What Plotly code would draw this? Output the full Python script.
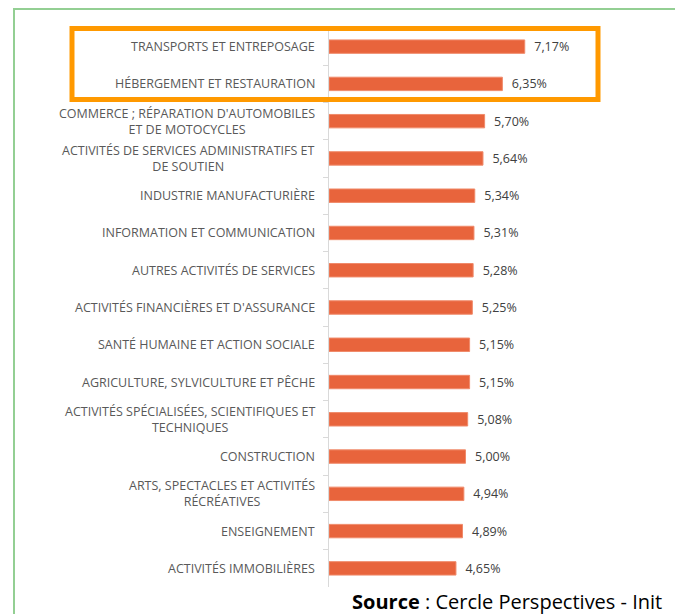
import plotly.graph_objects as go

# Secteurs (de haut en bas) et valeurs en %
SECTEURS = [
    "TRANSPORTS ET ENTREPOSAGE",
    "HÉBERGEMENT ET RESTAURATION",
    "COMMERCE ; RÉPARATION D'AUTOMOBILES<br>ET DE MOTOCYCLES",
    "ACTIVITÉS DE SERVICES ADMINISTRATIFS ET<br>DE SOUTIEN",
    "INDUSTRIE MANUFACTURIÈRE",
    "INFORMATION ET COMMUNICATION",
    "AUTRES ACTIVITÉS DE SERVICES",
    "ACTIVITÉS FINANCIÈRES ET D'ASSURANCE",
    "SANTÉ HUMAINE ET ACTION SOCIALE",
    "AGRICULTURE, SYLVICULTURE ET PÊCHE",
    "ACTIVITÉS SPÉCIALISÉES, SCIENTIFIQUES ET<br>TECHNIQUES",
    "CONSTRUCTION",
    "ARTS, SPECTACLES ET ACTIVITÉS<br>RÉCRÉATIVES",
    "ENSEIGNEMENT",
    "ACTIVITÉS IMMOBILIÈRES",
]
VALEURS = [7.17, 6.35, 5.70, 5.64, 5.34, 5.31, 5.28, 5.25, 5.15, 5.15, 5.08, 5.00, 4.94, 4.89, 4.65]

# la page html ajoute une marge de 8px autour de la figure
OFF = 8
W, H = 683 - OFF, 614 - OFF
ML, MR, MT, MB = 329 - OFF, 5, 28 - OFF, 27
PW, PH = W - ML - MR, H - MT - MB


def px_x(x):
    # x en pixels de l'image de reference -> coordonnees paper
    return (x - OFF - ML) / PW


def px_y(y):
    return 1 - (y - OFF - MT) / PH


# petit espace avant la valeur, comme dans Excel
labels = ["\u00a0\u00a0" + f"{v:.2f}".replace(".", ",") + "%" for v in VALEURS]

fig = go.Figure()
fig.add_trace(go.Bar(
    x=VALEURS,
    y=SECTEURS,
    orientation="h",
    width=0.36,
    marker=dict(color="#E8643C", line=dict(color="#F08A6A", width=1)),
    text=labels,
    textposition="outside",
    constraintext="none",
    textfont=dict(size=12.5, color="#404040", family="Open Sans"),
    cliponaxis=False,
    hoverinfo="skip",
))

# libelles des categories, centres sur plusieurs lignes
annotations = [
    dict(text=s, x=0, y=s, xref="x", yref="y", xanchor="right", yanchor="middle",
         xshift=-12, align="center", showarrow=False,
         font=dict(size=12.5, color="#595959", family="Open Sans"))
    for s in SECTEURS
]
annotations.append(dict(
    text="<b>Source</b> : Cercle Perspectives - Init",
    xref="paper", yref="paper", x=px_x(664), y=px_y(601),
    xanchor="right", yanchor="middle", showarrow=False,
    font=dict(size=20, color="black", family="Open Sans"),
))

fig.update_layout(
    width=W, height=H,
    margin=dict(l=ML, r=MR, t=MT, b=MB, autoexpand=False),
    paper_bgcolor="white",
    plot_bgcolor="white",
    showlegend=False,
    font=dict(family="Open Sans", color="#595959", size=12),
    xaxis=dict(range=[0, PW / 27.3], visible=False, fixedrange=True),
    yaxis=dict(
        autorange="reversed",
        automargin=False,
        showline=True, linecolor="#D9D9D9", linewidth=1,
        ticks="outside", tickson="boundaries", ticklen=5, tickcolor="#D9D9D9",
        showticklabels=False,
        showgrid=False,
    ),
    shapes=[
        # cadre vert
        dict(type="rect", xref="paper", yref="paper",
             x0=px_x(14), x1=px_x(678), y0=px_y(9), y1=px_y(640),
             line=dict(color="#93CF93", width=2)),
        # encadre orange
        dict(type="rect", xref="paper", yref="paper",
             x0=px_x(72), x1=px_x(598), y0=px_y(28.5), y1=px_y(99.5),
             line=dict(color="#FF9900", width=5)),
    ],
    annotations=annotations,
)

fig.write_html("out.html")
